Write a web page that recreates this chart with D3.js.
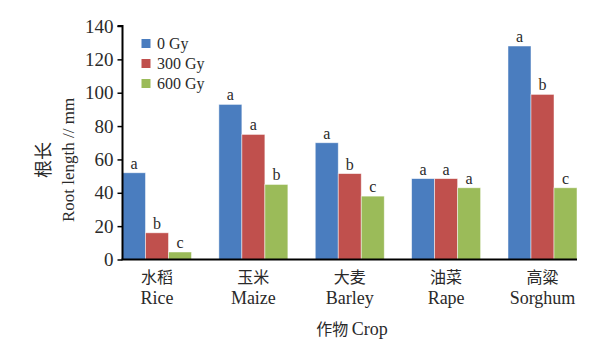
<!DOCTYPE html>
<html>
<head>
<meta charset="utf-8">
<script src="https://cdn.jsdelivr.net/npm/d3@7/dist/d3.min.js"></script>
<style>
  html, body { margin: 0; padding: 0; background: #fff; }
  svg { display: block; }
</style>
</head>
<body>
<svg id="chart" width="614" height="346"></svg>
<script>
// Crops (Chinese / English names)
const cropsZh = ["水稻", "玉米", "大麦", "油菜", "高粱"];
const cropsEn = ["Rice", "Maize", "Barley", "Rape", "Sorghum"];
// Irradiation doses
const doses = ["0 Gy", "300 Gy", "600 Gy"];
// Root length (mm) for each dose
const dose0 = [52, 93, 70, 48.5, 128];
const dose300 = [16, 75, 51.5, 48.5, 99];
const dose600 = [4.5, 45, 38, 43, 43];
// Significance letters
const letters0 = ["a", "a", "a", "a", "a"];
const letters300 = ["b", "a", "b", "a", "b"];
const letters600 = ["c", "b", "c", "a", "c"];
const yTicks = [0, 20, 40, 60, 80, 100, 120, 140];

const colors = ["#4a7dbf", "#c0504d", "#9bbb59"];
const series = [dose0, dose300, dose600];
const seriesLetters = [letters0, letters300, letters600];

const svg = d3.select("#chart");
const serif = "'Liberation Serif', 'DejaVu Serif', serif";
const cjk = "'Noto Sans CJK SC', sans-serif";
const ink = "#2a2a2a";

const plotLeft = 122.5, plotRight = 577, plotTop = 26, plotBottom = 259.5;

const x = d3.scaleBand().domain(cropsEn).range([plotLeft, plotRight])
  .paddingInner(0.284).paddingOuter(0);
const sub = d3.scaleBand().domain(d3.range(doses.length)).range([0, x.bandwidth()]);
const y = d3.scaleLinear().domain([0, 140]).range([plotBottom, plotTop]);

// Bars with significance letters above
series.forEach((vals, s) => {
  const g = svg.append("g");
  g.selectAll("rect").data(vals).join("rect")
    .attr("x", (d, i) => x(cropsEn[i]) + sub(s))
    .attr("y", d => y(d))
    .attr("width", sub.bandwidth())
    .attr("height", d => y(0) - y(d))
    .attr("fill", colors[s])
    .attr("stroke", "#ffffff")
    .attr("stroke-opacity", 0.6)
    .attr("stroke-width", 0.8);
  g.selectAll("text").data(vals).join("text")
    .attr("x", (d, i) => x(cropsEn[i]) + sub(s) + sub.bandwidth() / 2)
    .attr("y", d => y(d) - 4)
    .attr("text-anchor", "middle")
    .attr("font-family", serif)
    .attr("font-size", 16)
    .attr("fill", ink)
    .text((d, i) => seriesLetters[s][i]);
});

// Y axis
const yAxis = svg.append("g")
  .attr("transform", `translate(${plotLeft},0)`)
  .call(d3.axisLeft(y).tickValues(yTicks).tickSize(5).tickPadding(4));
yAxis.select(".domain").attr("stroke", "#000").attr("stroke-width", 2)
  .attr("d", `M-5,${plotTop}H0V${plotBottom}`);
yAxis.selectAll(".tick line").attr("stroke", "#000").attr("stroke-width", 1.5);
yAxis.selectAll(".tick text")
  .attr("font-family", serif).attr("font-size", 19).attr("fill", ink);

// X axis line
svg.append("line")
  .attr("x1", plotLeft - 1).attr("x2", plotRight)
  .attr("y1", plotBottom).attr("y2", plotBottom)
  .attr("stroke", "#000").attr("stroke-width", 2);

// Category labels
const cat = svg.append("g");
cropsEn.forEach((c, i) => {
  const cx = x(c) + x.bandwidth() / 2;
  cat.append("text").attr("x", cx).attr("y", 283)
    .attr("text-anchor", "middle").attr("font-family", cjk)
    .attr("font-size", 16).attr("fill", ink).text(cropsZh[i]);
  cat.append("text").attr("x", cx).attr("y", 304)
    .attr("text-anchor", "middle").attr("font-family", serif)
    .attr("font-size", 18).attr("fill", ink).text(c);
});

// Axis titles
svg.append("text")
  .attr("transform", "translate(50,160) rotate(-90)")
  .attr("text-anchor", "middle").attr("font-family", cjk)
  .attr("font-size", 18).attr("fill", ink).text("根长");
svg.append("text")
  .attr("transform", "translate(74,160) rotate(-90)")
  .attr("text-anchor", "middle").attr("font-family", serif)
  .attr("font-size", 17).attr("fill", ink).text("Root length // mm");

const xt = svg.append("text")
  .attr("x", 352).attr("y", 335)
  .attr("text-anchor", "middle").attr("fill", ink);
xt.append("tspan").attr("font-family", cjk).attr("font-size", 16).text("作物 ");
xt.append("tspan").attr("font-family", serif).attr("font-size", 18).text("Crop");

// Legend
const legend = svg.append("g");
doses.forEach((d, i) => {
  const ly = 43.5 + i * 20;
  legend.append("rect")
    .attr("x", 141.5).attr("y", ly - 4.5).attr("width", 9).attr("height", 9)
    .attr("fill", colors[i]);
  legend.append("text")
    .attr("x", 157).attr("y", ly + 5.5)
    .attr("font-family", serif).attr("font-size", 16).attr("fill", ink)
    .text(d);
});
</script>
</body>
</html>
